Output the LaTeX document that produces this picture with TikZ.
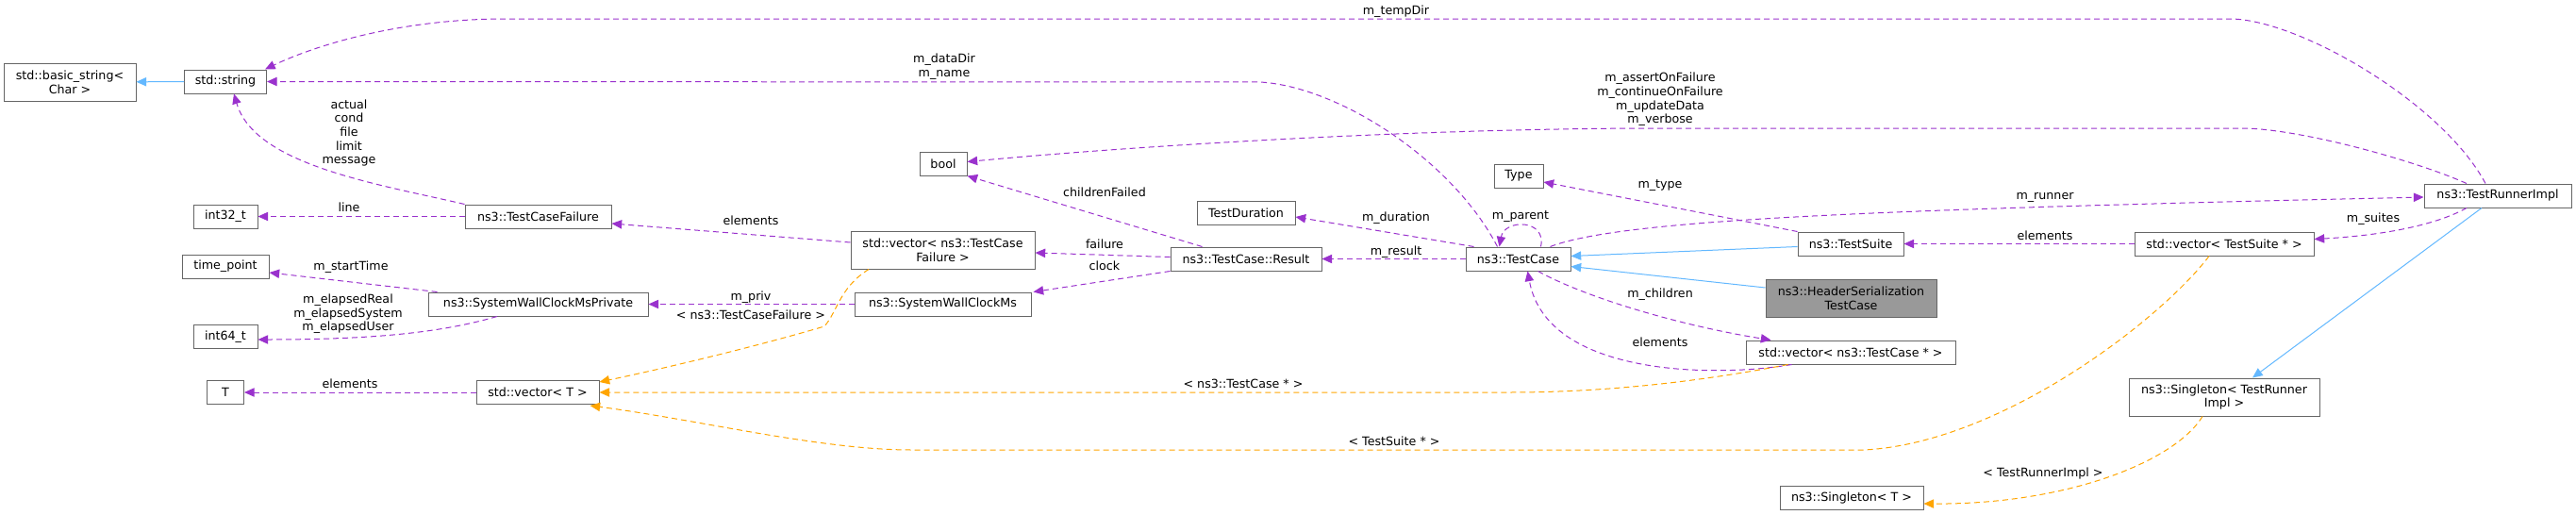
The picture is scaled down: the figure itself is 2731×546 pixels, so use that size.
\documentclass[tikz,border=0pt]{standalone}
\usepackage{fontspec}
\setmainfont{DejaVu Sans}
\usetikzlibrary{arrows.meta, calc}
\definecolor{dxline}{HTML}{666666}
\definecolor{dxgrey}{HTML}{999999}
\definecolor{dxpurple}{HTML}{9A32CD}
\definecolor{dxorange}{HTML}{FFA500}
\definecolor{dxblue}{HTML}{63B8FF}
\tikzset{
  cls/.style={draw=dxline, line width=0.75pt, fill=white, inner sep=0pt, align=center},
  sz/.style 2 args={minimum width=#1*0.75pt, minimum height=#2*0.75pt},
  lbl/.style={inner sep=0pt, align=center},
  memberedge/.style={draw=dxpurple, line width=0.75pt, dash pattern=on 4.5pt off 3pt, -{Triangle[length=8pt,width=7pt]}},
  tmpledge/.style={memberedge, draw=dxorange},
  baseedge/.style={draw=dxblue, line width=0.75pt, -{Triangle[length=8pt,width=7pt]}},
}
\begin{document}
\begin{tikzpicture}[x=0.75pt, y=-0.75pt, font=\fontsize{9.5}{11}\selectfont]
  \useasboundingbox (0,0) rectangle (2731,546);
  % classes
  \node[cls, sz={140}{40}] (basicstr) at (74,87) {std::basic\_string<\\Char >};
  \node[cls, sz={87}{25}] (stdstr) at (239,86.5) {std::string};
  \node[cls, sz={68}{25}] (int32) at (239,229.5) {int32\_t};
  \node[cls, sz={155}{25}] (tcfail) at (570.5,229.5) {ns3::TestCaseFailure};
  \node[cls, sz={92}{25}] (timept) at (239,282.5) {time\_point};
  \node[cls, sz={233}{25}] (clockpriv) at (570.5,322.5) {ns3::SystemWallClockMsPrivate};
  \node[cls, sz={68}{25}] (int64) at (239,357) {int64\_t};
  \node[cls, sz={39}{25}] (tparam) at (239,416) {T};
  \node[cls, sz={130}{25}] (vect) at (570,416) {std::vector< T >};
  \node[cls, sz={50}{25}] (bool) at (1000,173.5) {bool};
  \node[cls, sz={195}{40}] (vecfail) at (999.5,265) {std::vector< ns3::TestCase\\Failure >};
  \node[cls, sz={187}{25}] (clock) at (999.5,322.5) {ns3::SystemWallClockMs};
  \node[cls, sz={104}{25}] (duration) at (1321,225.5) {TestDuration};
  \node[cls, sz={160}{25}] (result) at (1321,274.5) {ns3::TestCase::Result};
  \node[cls, sz={52}{25}] (type) at (1610,186.5) {Type};
  \node[cls, sz={111}{25}] (testcase) at (1609.5,274.5) {ns3::TestCase};
  \node[cls, sz={222}{25}] (veccase) at (1962,373.5) {std::vector< ns3::TestCase * >};
  \node[cls, sz={112}{25}] (suite) at (1962,258.5) {ns3::TestSuite};
  \node[cls, sz={181}{40}, fill=dxgrey] (hdrcase) at (1962.5,316) {ns3::HeaderSerialization\\TestCase};
  \node[cls, sz={152}{25}] (singt) at (1963,527.5) {ns3::Singleton< T >};
  \node[cls, sz={190}{25}] (vecsuite) at (2358,258.5) {std::vector< TestSuite * >};
  \node[cls, sz={202}{40}] (singrun) at (2358,421) {ns3::Singleton< TestRunner\\Impl >};
  \node[cls, sz={156}{25}] (runner) at (2648,207.5) {ns3::TestRunnerImpl};
  % inheritance
  \draw[baseedge] (stdstr) -- (basicstr);
  \draw[baseedge] ($(suite.west)+(0,3)$) -- ($(testcase.east)+(0,-3)$);
  \draw[baseedge] ($(hdrcase.west)+(0,-11)$) -- ($(testcase.east)+(0,8)$);
  \draw[baseedge] ($(runner.south)+(-17,0)$) -- ($(singrun.north)+(30,0)$);
  % members
  \draw[memberedge] (tcfail.north west) .. controls (400,195) and (270,175) .. ($(stdstr.south)+(9,0)$);
  \draw[memberedge] (tcfail) -- (int32);
  \draw[memberedge] ($(testcase.north)+(-22,0)$) .. controls (1540,170) and (1420,92) .. (1336,87) -- (stdstr.east);
  \draw[memberedge] ($(runner.north)+(-13,0)$) .. controls (2590,110) and (2440,22) .. (2366,20) -- (536,20) .. controls (420,20) and (330,50) .. ($(stdstr.north east)+(-2,0)$);
  \draw[memberedge] ($(runner.north)+(-33,0)$) .. controls (2560,170) and (2440,137) .. (2379,136) -- (1760,136) .. controls (1500,136) and (1200,155) .. ($(bool.east)+(0,-2)$);
  \draw[memberedge] ($(result.north west)+(34,0)$) -- (bool.south east);
  \draw[memberedge] ($(result.west)+(0,-2)$) -- ($(vecfail.east)+(0,3)$);
  \draw[memberedge] (result.south west) -- ($(clock.north east)+(2,0)$);
  \draw[memberedge] ($(vecfail.west)+(0,-8)$) -- ($(tcfail.east)+(0,7.5)$);
  \draw[memberedge] (clock) -- (clockpriv);
  \draw[memberedge] ($(clockpriv.north west)+(10,0)$) -- ($(timept.east)+(0,6.5)$);
  \draw[memberedge] ($(clockpriv.south)+(-43.5,0)$) .. controls (470,352) and (400,360) .. ($(int64.east)+(0,3)$);
  \draw[memberedge] (vect) -- (tparam);
  \draw[memberedge] ($(testcase.north west)+(9,0)$) -- ($(duration.east)+(0,4.5)$);
  \draw[memberedge] (testcase) -- (result);
  \draw[memberedge] (suite.north west) -- ($(type.east)+(0,6.5)$);
  \draw[memberedge] ($(testcase.north east)+(-32,0)$) .. controls (1640,232) and (1595,232) .. ($(testcase.north)+(-20,0)$);
  \draw[memberedge] ($(testcase.north east)+(-22,0)$) .. controls (1720,232) and (2000,222) .. ($(runner.west)+(0,1.5)$);
  \draw[memberedge] (vecsuite) -- (suite);
  \draw[memberedge] ($(runner.south)+(-33,0)$) .. controls (2580,240) and (2520,250) .. ($(vecsuite.east)+(0,-5)$);
  \draw[memberedge] ($(testcase.south)+(21,0)$) .. controls (1680,315) and (1780,345) .. ($(veccase.north west)+(27,0)$);
  \draw[memberedge] ($(veccase.south west)+(49,0)$) .. controls (1820,400) and (1640,400) .. ($(testcase.south)+(10,0)$);
  % template arguments
  \draw[tmpledge] ($(vecfail.south)+(-78.5,0)$) .. controls (890,305) and (888,330) .. (874,346) .. controls (820,362) and (730,385) .. ($(vect.north east)+(0,2)$);
  \draw[tmpledge] ($(veccase.south west)+(45,0)$) .. controls (1800,405) and (1700,416) .. (1600,416) -- (vect.east);
  \draw[tmpledge] ($(vecsuite.south)+(-16,0)$) .. controls (2290,340) and (2120,470) .. (1976,477) -- (966,477) .. controls (870,477) and (740,445) .. ($(vect.south east)+(-10,1)$);
  \draw[tmpledge] ($(singrun.south)+(-23,0)$) .. controls (2305,490) and (2190,535) .. ($(singt.east)+(0,6.5)$);
  % labels
  \node[lbl] (l-strs) at (370,141) {actual\\cond\\file\\limit\\message};
  \node[lbl] (l-line) at (370,220) {line};
  \node[lbl] (l-start) at (372,283) {m\_startTime};
  \node[lbl] (l-elapsed) at (369,333) {m\_elapsedReal\\m\_elapsedSystem\\m\_elapsedUser};
  \node[lbl] (l-elemt) at (371,407) {elements};
  \node[lbl] (l-elemfail) at (796,234) {elements};
  \node[lbl] (l-priv) at (796,315) {m\_priv};
  \node[lbl] (l-tfail) at (796,334) {< ns3::TestCaseFailure >};
  \node[lbl] (l-names) at (1001,71) {m\_dataDir\\m\_name};
  \node[lbl] (l-childfail) at (1171,204) {childrenFailed};
  \node[lbl] (l-failure) at (1171,259) {failure};
  \node[lbl] (l-clock) at (1171,282) {clock};
  \node[lbl] (l-tcase) at (1318,407) {< ns3::TestCase * >};
  \node[lbl] (l-temp) at (1480,12) {m\_tempDir};
  \node[lbl] (l-duration) at (1480,231) {m\_duration};
  \node[lbl] (l-result) at (1480,267) {m\_result};
  \node[lbl] (l-tsuite) at (1478,468) {< TestSuite * >};
  \node[lbl] (l-parent) at (1612,230) {m\_parent};
  \node[lbl] (l-flags) at (1760,105.5) {m\_assertOnFailure\\m\_continueOnFailure\\m\_updateData\\m\_verbose};
  \node[lbl] (l-type) at (1760,197) {m\_type};
  \node[lbl] (l-children) at (1760,312) {m\_children};
  \node[lbl] (l-elemcase) at (1760,363) {elements};
  \node[lbl] (l-runner) at (2168,209) {m\_runner};
  \node[lbl] (l-elemsuite) at (2168,250) {elements};
  \node[lbl] (l-trun) at (2166,502) {< TestRunnerImpl >};
  \node[lbl] (l-suites) at (2516,232) {m\_suites};
\end{tikzpicture}
\end{document}
